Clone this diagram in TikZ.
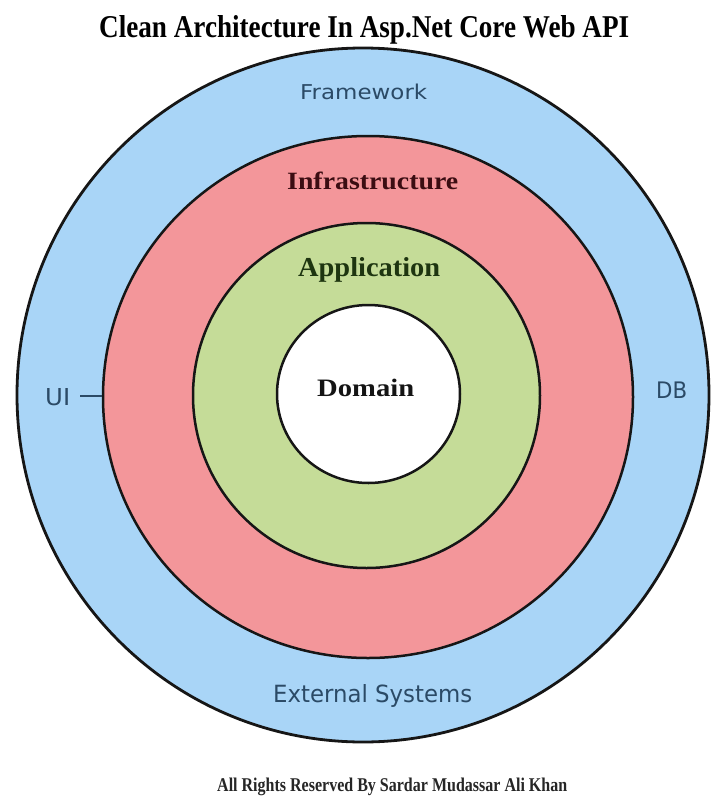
\documentclass[tikz,border=0pt]{standalone}
\usepackage{fontspec}
\setmainfont{Liberation Serif}
\newfontfamily\labelsans{DejaVu Sans}
\usepackage{graphicx}
\definecolor{fwblue}{RGB}{169,213,247}
\definecolor{infred}{RGB}{243,150,154}
\definecolor{appgreen}{RGB}{197,220,152}
\definecolor{ringline}{RGB}{22,22,22}
\definecolor{sanstext}{RGB}{43,74,102}
\definecolor{inftext}{RGB}{59,13,18}
\definecolor{apptext}{RGB}{30,53,16}
\definecolor{domtext}{RGB}{20,20,20}
\newcommand{\fitbox}[3]{\resizebox{#1pt}{#2pt}{#3}}
\tikzset{
  ring/.style={draw=ringline, line width=2.5pt},
  lbl/.style={inner sep=0pt, anchor=base west},
  sanslbl/.style={lbl, text=sanstext, font=\labelsans},
  seriflbl/.style={lbl, font=\bfseries}
}
\begin{document}
\begin{tikzpicture}[x=1pt,y=-1pt]
\useasboundingbox (0,0) rectangle (712,798);
\fill[white] (0,0) rectangle (712,798);
% rings
\draw[ring, line width=2.8pt, fill=fwblue] (363,395) ellipse [x radius=346pt, y radius=347pt];
\draw[ring, fill=infred] (368,397) ellipse [x radius=265pt, y radius=261pt];
\draw[ring, fill=appgreen] (366.5,395.5) ellipse [x radius=173.5pt, y radius=172.5pt];
\draw[ring, fill=white] (368.5,394) ellipse [x radius=91.5pt, y radius=89pt];
\coordinate (redW) at (102,396);
% title and footer
\node[seriflbl, text=black] (title) at (99,37) {\fitbox{530}{22}{Clean Architecture In Asp.Net Core Web API}};
\node[seriflbl, text=black!85] (footer) at (217,791) {\fitbox{350}{13.5}{All Rights Reserved By Sardar Mudassar Ali Khan}};
% layer labels
\node[sanslbl] (framework) at (300,99) {\fitbox{127}{15.5}{Framework}};
\node[sanslbl] (external) at (273,702.7) {\fitbox{199}{18}{External Systems}};
\node[sanslbl] (ui) at (45,405) {\fitbox{25}{17}{UI}};
\node[sanslbl] (db) at (656,398.3) {\fitbox{31}{16.6}{DB}};
\node[seriflbl, text=inftext] (infra) at (287,189.3) {\fitbox{171}{17.5}{Infrastructure}};
\node[seriflbl, text=apptext] (app) at (298,276) {\fitbox{142}{19}{Application}};
\node[seriflbl, text=domtext] (domain) at (317,396.7) {\fitbox{97}{17.4}{Domain}};
% connector
\draw[sanstext, line width=1.6pt] ([xshift=10pt]ui.east |- 0,396) -- (redW);
\end{tikzpicture}
\end{document}
